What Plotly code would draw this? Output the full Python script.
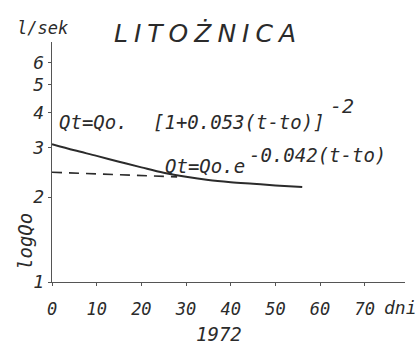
import plotly.graph_objects as go

# Discharge recession, Litożnica spring, 1972
t_solid = [0, 5, 10, 15, 20, 25, 30, 35, 40, 45, 50, 56]
q_solid = [3.08, 2.93, 2.80, 2.67, 2.55, 2.44, 2.36, 2.30, 2.26, 2.23, 2.20, 2.17]
t_dash = [0, 28]
q_dash = [2.45, 2.36]

x_ticks = [0, 10, 20, 30, 40, 50, 60, 70]
y_ticks = [1, 2, 3, 4, 5, 6]

INK = "#2b2b2b"
SANS = "DejaVu Sans"
MONO = "DejaVu Sans Mono"

W, H = 420, 348
L, R, T, B = 52, 15, 42, 66


def px(x, y):
    """Pixel position -> paper coordinates."""
    return (x - L) / (W - L - R), (H - B - y) / (H - T - B)


fig = go.Figure()
fig.add_trace(go.Scatter(x=t_solid, y=q_solid, mode="lines",
                         line=dict(color=INK, width=2, shape="spline"),
                         hoverinfo="skip"))
fig.add_trace(go.Scatter(x=t_dash, y=q_dash, mode="lines",
                         line=dict(color=INK, width=1.6, dash="10px,7px"),
                         hoverinfo="skip"))

annotations = []


def label(text, x, y, size, anchor="center", angle=0, family=MONO):
    ax, ay = px(x, y)
    annotations.append(dict(text=text, x=ax, y=ay, xref="paper", yref="paper",
                            xanchor=anchor, yanchor="middle", showarrow=False,
                            textangle=angle,
                            font=dict(family=family, size=size, color=INK,
                                      style="italic")))


label("LITOŻNICA", 208, 34, 25, family=SANS)
label("l/sek", 42, 28, 17)
label("Qt=Qo.", 57, 122, 19, "left")
label("[1+0.053(t-to)]", 151, 122, 19, "left")
label("-2", 328, 106, 20, "left")
label("Qt=Qo.e", 163, 166, 19, "left")
label("-0.042(t-to)", 247, 155, 19, "left")
label("logQo", 25, 242, 19, angle=-90)
label("dni", 400, 307, 18)
label("1972", 219, 334, 19)

tick_font = dict(family=MONO, size=17, color=INK, style="italic")

fig.update_layout(
    width=W, height=H,
    margin=dict(l=L, r=R, t=T, b=B),
    paper_bgcolor="white", plot_bgcolor="white",
    showlegend=False,
    annotations=annotations,
    xaxis=dict(range=[0, 79], tickvals=x_ticks,
               ticktext=[str(v) for v in x_ticks],
               showgrid=False, zeroline=False, showline=True,
               linecolor="#555555", linewidth=1.4,
               ticks="outside", ticklen=3, tickcolor="#555555",
               ticklabelstandoff=8, tickfont=tick_font),
    yaxis=dict(type="log", range=[0, 0.851], tickvals=y_ticks,
               ticktext=[str(v) for v in y_ticks],
               showgrid=False, zeroline=False, showline=True,
               linecolor="#555555", linewidth=1.4,
               ticks="outside", ticklen=3, tickcolor="#555555",
               tickfont=dict(family=MONO, size=18, color=INK, style="italic")),
)

# widen the lettering of the title
spacing_js = """
document.getElementById('{plot_id}').querySelectorAll('.annotation-text')
  .forEach(function (el) {
    if (el.textContent.indexOf('LITO') === 0) { el.style.letterSpacing = '6px'; }
  });
"""

fig.write_html("out.html", post_script=spacing_js)
